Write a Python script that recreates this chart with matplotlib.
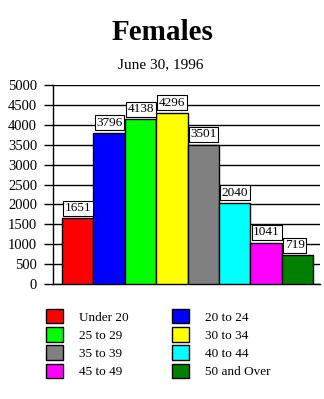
import matplotlib.pyplot as plt

groups = ['Under 20', '20 to 24', '25 to 29', '30 to 34',
          '35 to 39', '40 to 44', '45 to 49', '50 and Over']
females = [1651, 3796, 4138, 4296, 3501, 2040, 1041, 719]
colors = ['#ff0000', '#0000ff', '#00ff00', '#ffff00',
          '#808080', '#00ffff', '#ff00ff', '#008000']
yticks = [0, 500, 1000, 1500, 2000, 2500, 3000, 3500, 4000, 4500, 5000]

plt.rcParams['font.family'] = ['Liberation Serif', 'DejaVu Serif']

fig = plt.figure(figsize=(3.24, 3.99), dpi=100)
W, H = 324, 399
ax = fig.add_axes([53 / W, 1 - 284 / H, (320 - 53) / W, (284 - 85) / H])

bars = ax.bar(range(len(females)), females, width=1.0, color=colors,
              edgecolor='black', linewidth=1, zorder=3, label=groups)
for i, v in enumerate(females):
    ax.annotate(str(v), (i - 0.5, v), xytext=(2, 3), textcoords='offset points',
                ha='left', va='bottom', fontsize=9.5, zorder=4,
                bbox=dict(boxstyle='square,pad=0.12', fc='white', ec='black', lw=0.8))

ax.set_ylim(0, 5000)
ax.set_xlim(-0.787, 7.713)
ax.set_yticks(yticks)
ax.set_yticklabels([str(t) for t in yticks], fontsize=10.5, family='Liberation Serif')
ax.set_xticks([])
ax.yaxis.grid(True, color='black', linewidth=1, zorder=0)
ax.set_axisbelow(True)
ax.tick_params(axis='y', direction='out', length=6.5, width=1, pad=5)
for s in ['top', 'right']:
    ax.spines[s].set_visible(False)
for s in ['left', 'bottom']:
    ax.spines[s].set_linewidth(1)

fig.text(163 / W, 1 - 32 / H, 'Females', ha='center', va='center',
         fontsize=21, fontweight='bold')
fig.text(161 / W, 1 - 65 / H, 'June 30, 1996', ha='center', va='center',
         fontsize=11)

order = [0, 2, 4, 6, 1, 3, 5, 7]
handles = [bars.patches[i] for i in order]
labels = [groups[i] for i in order]
fig.legend(handles, labels, ncol=2, loc='upper left',
           bbox_to_anchor=(46 / W, 1 - 309 / H), frameon=False,
           fontsize=9.5, handlelength=1.3, handleheight=1.3,
           handletextpad=1.2, labelspacing=0.27, columnspacing=3.3,
           borderpad=0, borderaxespad=0)

fig.savefig('out.png', dpi=100)
